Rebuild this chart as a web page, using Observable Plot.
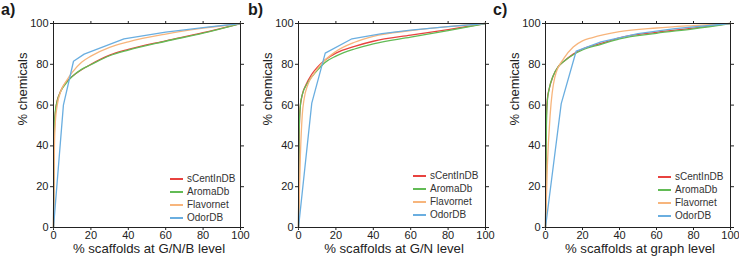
<!DOCTYPE html>
<html><head><meta charset="utf-8">
<script src="https://cdn.jsdelivr.net/npm/d3@7"></script>
<script src="https://cdn.jsdelivr.net/npm/@observablehq/plot@0.6"></script>
<style>
body{margin:0;background:#fff;font-family:"Liberation Sans",Arial,sans-serif;}
#wrap{position:relative;width:739px;height:256px;overflow:hidden;background:#fff;}
.panel{position:absolute;top:0;overflow:visible;}
.tag{position:absolute;top:1px;font-weight:bold;font-size:16px;color:#1a1a1a;}
.legend{position:absolute;font-size:10px;color:#333;line-height:13px;}
.legend div{display:flex;align-items:center;white-space:nowrap;height:13px;}
.legend span.sw{display:inline-block;width:13px;height:2px;margin-right:4px;}
</style></head>
<body><div id="wrap"></div>
<script>
const seriesNames = ["sCentInDB","AromaDb","Flavornet","OdorDB"];
const seriesColors = ["#e8423f","#62bb55","#f7b57c","#6aaee0"];
const xTicks = [0,20,40,60,80,100];
const yTicks = [0,20,40,60,80,100];
const panelTags = ["a)","b)","c)"];
const xLabels = ["% scaffolds at G/N/B level","% scaffolds at G/N level","% scaffolds at graph level"];
const yLabel = "% chemicals";

// Panel a
const aX_sCent=[0,0.3,0.7,1.5,3,5,8,12,20,30,40,60,80,100];
const aY_sCent=[0,40,52,60,65,69,72.5,75.5,80,84.5,87.3,91.5,95.5,100];
const aX_aroma=[0,0.3,1,2,4,7,10,15,20,30,40,60,80,100];
const aY_aroma=[0,45,57,62,67,71,74,77.5,79.8,84.2,87,91.3,95.3,100];
const aX_flav=[0,0.5,1,2,4,7,10,15,20,30,40,60,80,100];
const aY_flav=[0,40,52,60,67,72,76,81,84,88.3,91,94.8,97.7,100];
const aX_odor=[0,5.3,10.7,16.4,37.7,60,80,100];
const aY_odor=[0,60,81.5,85,92.5,95.8,98,100];
// Panel b
const bX_sCent=[0,0.3,0.8,2,4,7,10,14,20,30,40,60,80,100];
const bY_sCent=[0,40,58,65,70,75,78.5,82,85.5,88.8,91.3,94.3,97,100];
const bX_aroma=[0,0.3,1,2,5,10,14,20,30,40,60,80,100];
const bY_aroma=[0,45,60,65,71,77,80.8,84,87.5,90,93.3,96.5,100];
const bX_flav=[0,1,2,3,5,8,12,20,30,40,60,80,100];
const bY_flav=[0,35,55,63,70,75,80,86.3,90.8,93.7,96.5,98.5,100];
const bX_odor=[0,7.1,14.3,28.6,44.6,60,80,100];
const bY_odor=[0,61,85.5,92.5,95,96.8,98.5,100];
// Panel c
const cX_sCent=[0,0.5,1,2,4,7,10,15,20,30,40,60,80,100];
const cY_sCent=[0,55,63,68,74,79,81.5,85,87.5,90.2,93,95.7,97.7,100];
const cX_aroma=[0,0.5,1,2,4,7,10,15,20,30,40,60,80,100];
const cY_aroma=[0,50,62,68,74,79,81.5,84.7,87,89.8,92.5,95.2,97.4,100];
const cX_flav=[0,1,2.5,5,10,15,20,25,40,60,80,100];
const cY_flav=[0,30,55,73.5,83,88.5,91.5,93,96,97.8,99,100];
const cX_odor=[0,8.5,16.6,30,50,70,100];
const cY_odor=[0,60.7,86.5,91,95,97.5,100];

const panels = [
  {left:0, width:245, ml:53, mr:5, legLeft:170, legTop:172,
   series:[[aX_sCent,aY_sCent],[aX_aroma,aY_aroma],[aX_flav,aY_flav],[aX_odor,aY_odor]]},
  {left:245, width:245, ml:53, mr:5, legLeft:413, legTop:169,
   series:[[bX_sCent,bY_sCent],[bX_aroma,bY_aroma],[bX_flav,bY_flav],[bX_odor,bY_odor]]},
  {left:490, width:249, ml:55, mr:9, legLeft:658, legTop:170,
   series:[[cX_sCent,cY_sCent],[cX_aroma,cY_aroma],[cX_flav,cY_flav],[cX_odor,cY_odor]]}
];

const wrap = document.getElementById("wrap");
panels.forEach((p, i) => {
  const lineMarks = p.series.map(([xs, ys], k) => {
    const rows = xs.map((x, j) => ({x, y: ys[j]}));
    return Plot.line(rows, {x:"x", y:"y", stroke: seriesColors[k], strokeWidth:1.3,
      curve: k === 3 ? "linear" : "monotone-x"});
  });
  const chart = Plot.plot({
    width: p.width, height: 256,
    marginLeft: p.ml, marginRight: p.mr, marginTop: 23, marginBottom: 29,
    style: {fontFamily: '"Liberation Sans", Arial, sans-serif', fontSize: "11px", color: "#222", background: "transparent", overflow: "visible"},
    x: {domain: [0,100]}, y: {domain: [0,100]},
    marks: [
      Plot.axisX({anchor:"bottom", ticks: xTicks, tickSize:3, tickPadding:1, label:null}),
      Plot.axisX({anchor:"top", ticks: xTicks, tickSize:3, tickFormat: () => "", label:null}),
      Plot.axisY({anchor:"left", ticks: yTicks, tickSize:3, tickPadding:2, label:null}),
      Plot.axisY({anchor:"right", ticks: yTicks, tickSize:3, tickFormat: () => "", label:null}),
      ...lineMarks,
      Plot.frame({stroke:"#222", strokeWidth:1}),
      Plot.text([xLabels[i]], {frameAnchor:"bottom", lineAnchor:"middle", dx:2, dy:21.5, fontSize:13.2, fill:"#222"}),
      Plot.text([yLabel], {frameAnchor:"left", lineAnchor:"middle", dx:-31, rotate:-90, fontSize:13, fill:"#222"})
    ]
  });
  chart.classList.add("panel");
  chart.style.left = p.left + "px";
  wrap.appendChild(chart);

  const tag = document.createElement("div");
  tag.className = "tag";
  tag.style.left = (p.left + (i===0 ? 1 : 3)) + "px";
  tag.textContent = panelTags[i];
  wrap.appendChild(tag);

  const leg = document.createElement("div");
  leg.className = "legend";
  leg.style.left = p.legLeft + "px";
  leg.style.top = p.legTop + "px";
  seriesNames.forEach((n, k) => {
    const row = document.createElement("div");
    const sw = document.createElement("span");
    sw.className = "sw";
    sw.style.background = seriesColors[k];
    row.appendChild(sw);
    row.appendChild(document.createTextNode(n));
    leg.appendChild(row);
  });
  wrap.appendChild(leg);
});
</script>
</body></html>
